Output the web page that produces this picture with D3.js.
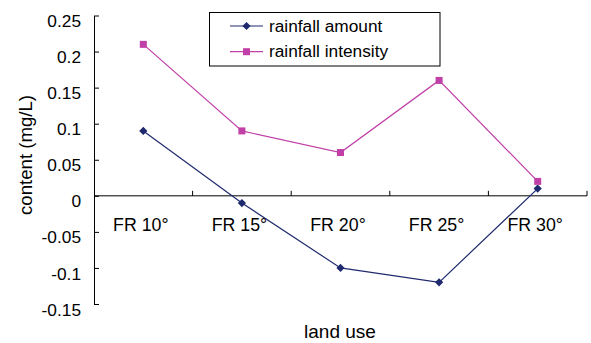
<!DOCTYPE html>
<html><head><meta charset="utf-8">
<script src="https://cdn.jsdelivr.net/npm/d3@7"></script>
<style>body{margin:0;background:#fff}text{font-family:"Liberation Sans",Arial,sans-serif;fill:#000}</style>
</head><body><svg id="c" width="591" height="343"></svg>
<script>
const categories = ["FR 10°","FR 15°","FR 20°","FR 25°","FR 30°"];
const rainfallAmount = [0.09,-0.01,-0.1,-0.12,0.01];
const rainfallIntensity = [0.21,0.09,0.06,0.16,0.02];
const yTicks = [0.25,0.2,0.15,0.1,0.05,0,-0.05,-0.1,-0.15];
const yTickLabels = ["0.25","0.2","0.15","0.1","0.05","0","-0.05","-0.1","-0.15"];
const seriesNames = ["rainfall amount","rainfall intensity"];
const colors = ["#1f2a6e","#c040a8"];

const svg = d3.select("#c");
const L=94, R=587, T=15.5, B=304;
const x = d3.scaleBand().domain(categories).range([L,R]);
const y = d3.scaleLinear().domain([-0.15,0.25]).range([B,T]);

// y axis
const ya = svg.append("g").attr("transform",`translate(${L},0)`)
  .call(d3.axisLeft(y).tickValues(yTicks).tickSizeInner(-5).tickSizeOuter(0).tickPadding(13)
    .tickFormat((d,i)=>yTickLabels[i]));
ya.select(".domain").attr("stroke","#000");
ya.selectAll(".tick line").attr("stroke","#000");
ya.selectAll(".tick text").attr("font-size",17.3).attr("dy","0.64em").attr("fill","#000").style("font-family","Liberation Sans, Arial, sans-serif");

// x axis at zero
const xg = svg.append("g").attr("transform",`translate(0,${y(0)})`);
xg.append("line").attr("x1",L).attr("x2",R).attr("stroke","#000");
const bounds = categories.map(c=>x(c)+x.bandwidth());
xg.selectAll("line.t").data(bounds).enter().append("line").attr("class","t")
  .attr("x1",d=>d).attr("x2",d=>d).attr("y1",0).attr("y2",-5).attr("stroke","#000");
xg.selectAll("text").data(categories).enter().append("text")
  .attr("x",d=>x(d)+x.bandwidth()/2-2.5).attr("y",35.3).attr("text-anchor","middle")
  .attr("font-size",17.8).text(d=>d);

// lines
const line = d3.line().x((d,i)=>x(categories[i])+x.bandwidth()/2).y(d=>y(d));
const data = [rainfallAmount, rainfallIntensity];
data.forEach((s,k)=>{
  svg.append("path").datum(s).attr("d",line).attr("fill","none").attr("stroke",colors[k]).attr("stroke-width",1.2);
});
svg.selectAll("path.m0").data(rainfallAmount).enter().append("path").attr("class","m0")
  .attr("transform",(d,i)=>`translate(${x(categories[i])+x.bandwidth()/2},${y(d)}) rotate(45)`)
  .attr("d",d3.symbol().type(d3.symbolSquare).size(34)).attr("fill",colors[0]);
svg.selectAll("rect.m1").data(rainfallIntensity).enter().append("rect").attr("class","m1")
  .attr("x",(d,i)=>x(categories[i])+x.bandwidth()/2-3.5).attr("y",d=>y(d)-3.5)
  .attr("width",7).attr("height",7).attr("fill",colors[1]);

// legend
const lg = svg.append("g");
lg.append("rect").attr("x",209.5).attr("y",12.5).attr("width",230.5).attr("height",53.5).attr("fill","#fff").attr("stroke","#000");
seriesNames.forEach((n,k)=>{
  const yy = k===0?26:51.7;
  lg.append("line").attr("x1",230).attr("x2",263).attr("y1",yy).attr("y2",yy).attr("stroke",colors[k]).attr("stroke-width",1.2);
  if(k===0) lg.append("path").attr("transform",`translate(246.5,${yy}) rotate(45)`).attr("d",d3.symbol().type(d3.symbolSquare).size(34)).attr("fill",colors[k]);
  else lg.append("rect").attr("x",243).attr("y",yy-3.5).attr("width",7).attr("height",7).attr("fill",colors[k]);
  lg.append("text").attr("x",269).attr("y",yy+5.6).attr("font-size",17.3).text(n);
});

// axis titles
svg.append("text").attr("transform","translate(32.3,155) rotate(-90)").attr("text-anchor","middle").attr("font-size",18.6).text("content (mg/L)");
svg.append("text").attr("x",340).attr("y",338).attr("text-anchor","middle").attr("font-size",19).text("land use");
</script></body></html>
